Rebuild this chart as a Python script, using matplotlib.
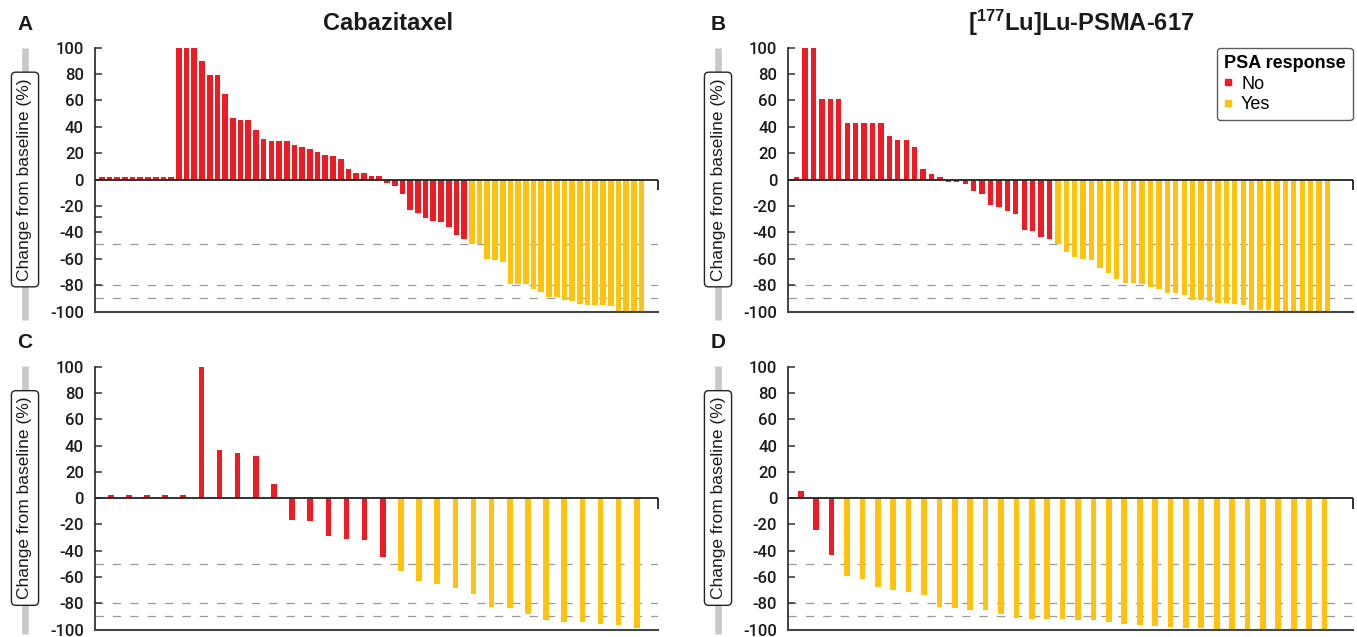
import matplotlib
matplotlib.use("Agg")
import matplotlib.pyplot as plt
from matplotlib.lines import Line2D

plt.rcParams['font.family'] = ['Liberation Sans', 'DejaVu Sans']
plt.rcParams['mathtext.fontset'] = 'custom'
plt.rcParams['mathtext.rm'] = 'Liberation Sans'
plt.rcParams['mathtext.bf'] = 'Liberation Sans:bold'
plt.rcParams['lines.scale_dashes'] = False

# ---------------- data ----------------
# Panel A: Cabazitaxel, PSA change (all patients)
a_no = [2, 2, 2, 2, 2, 2, 2, 2, 2, 2,
        100, 100, 100, 90, 79, 79, 65, 47, 45, 45, 38, 31, 29, 29, 29, 26, 25, 23, 21,
        19, 18, 16, 8, 5, 5, 2.5, 2.5,
        -2.5, -5, -11, -23, -25, -29, -31, -32, -36, -42, -45]
a_yes = [-49, -49, -60, -61, -62, -79, -79, -79, -83, -85, -89, -89, -91, -92, -94,
         -95, -95, -95, -96, -100, -100, -100, -100]

# Panel B: [177Lu]Lu-PSMA-617 (all patients)
b_no = [2, 100, 100, 61, 61, 61, 43, 43, 43, 43, 43, 33, 30, 30, 25, 8, 4, 2,
        -1.5, -2, -3.5, -8.5, -10.5, -19, -20.5, -24, -26, -38, -39, -43.5, -45]
b_yes = [-48.5, -55, -58.5, -60, -61, -67, -70.5, -75, -78, -78, -79, -81, -82.5,
         -86, -86, -87, -91, -91, -92, -93.5, -93.5, -94, -95, -99, -99, -99,
         -100, -100, -100, -100, -100, -100, -100]

# Panel C: Cabazitaxel (subgroup)
c_no = [2, 2, 2, 2, 2, 100, 36.5, 34.5, 32, 11, -16.5, -17.5, -28.5, -31, -32, -44.5]
c_yes = [-55.5, -63, -65, -68.5, -73, -82.5, -84, -88.5, -93, -94, -94.5, -96,
         -96.5, -99]

# Panel D: [177Lu]Lu-PSMA-617 (subgroup)
d_no = [5.5, -24.5, -43.5]
d_yes = [-59, -61.5, -67.5, -70, -71.5, -74, -82.5, -84, -85, -85.5, -88.5, -91,
         -92, -92, -92, -93, -93, -94.5, -95.5, -96.5, -97, -98, -98.5, -98.5,
         -99.5, -99.5, -99.5, -99.5, -99.5, -99.5, -99.5, -99.5]

y_ticks = [100, 80, 60, 40, 20, 0, -20, -40, -60, -80, -100]
thresholds_top = [-49, -80, -90]
thresholds_bottom = [-50, -80, -90]

RED = '#ED1C24'
YELLOW = '#FFC20E'

W, H = 1357, 637
fig = plt.figure(figsize=(W / 100, H / 100), dpi=100)


def px_axes(left, right, top, bottom):
    return fig.add_axes([left / W, (H - bottom) / H, (right - left) / W, (bottom - top) / H])


def panel(ax, no_vals, yes_vals, width, xlim, thresholds, extra_minor=None):
    n_no = len(no_vals)
    xs_no = list(range(n_no))
    xs_yes = list(range(n_no, n_no + len(yes_vals)))
    ax.bar(xs_no, no_vals, width=width, color=RED, linewidth=0, zorder=2)
    ax.bar(xs_yes, yes_vals, width=width, color=YELLOW, linewidth=0, zorder=2)
    ax.set_xlim(*xlim)
    ax.set_ylim(-100, 100)
    for t in thresholds:
        ax.axhline(t, color='#9a9a9a', lw=0.9, dashes=(6, 6.5), zorder=1)
    ax.axhline(0, color='#222222', lw=1.3, zorder=3)
    ax.plot([xlim[1], xlim[1]], [0, -8], color='#222222', lw=1.3, zorder=3,
            clip_on=False, solid_capstyle='butt')
    for s in ['top', 'right']:
        ax.spines[s].set_visible(False)
    ax.spines['left'].set_color('#222222')
    ax.spines['left'].set_linewidth(1.2)
    ax.spines['bottom'].set_color('#444444')
    ax.spines['bottom'].set_linewidth(1.5)
    ax.set_xticks([])
    ax.set_yticks(y_ticks)
    ax.set_yticklabels([str(t) for t in y_ticks])
    ax.tick_params(axis='y', direction='in', length=5, width=1.1, color='#333333',
                   labelsize=12, pad=8, labelcolor='#1a1a1a')
    for lab in ax.get_yticklabels():
        lab.set_family(['Roboto', 'Liberation Sans'])
        lab.set_fontweight('medium')
    if extra_minor is not None:
        ax.set_yticks(extra_minor, minor=True)
        ax.tick_params(axis='y', which='minor', direction='in', length=5, width=1.1,
                       color='#333333')


axA = px_axes(95, 658, 47.7, 311.7)
axB = px_axes(788.3, 1352.7, 47.7, 311.7)
axC = px_axes(95, 658, 366.7, 629.5)
axD = px_axes(788.3, 1352.7, 366.7, 629.5)

panel(axA, a_no, a_yes, 0.74, (-0.87, 72.14), thresholds_top, extra_minor=[-28.5])
panel(axB, b_no, b_yes, 0.63, (-1.0, 66.0), thresholds_top)
panel(axC, c_no, c_yes, 0.31, (-0.865, 30.17), thresholds_bottom)
panel(axD, d_no, d_yes, 0.37, (-0.81, 35.83), thresholds_bottom)


# y-labels: gray bar + rounded box
def ylabel_box(xc, top, bottom, box_top, box_bottom):
    fig.add_artist(Line2D([xc / W, xc / W], [(H - bottom) / H, (H - top) / H],
                          color='#c8c8c8', lw=4.8, solid_capstyle='butt'))
    fig.text(xc / W, (H - (box_top + box_bottom) / 2) / H, 'Change from baseline (%)',
             rotation=90, ha='center', va='center', fontsize=12.5, color='#1a1a1a',
             bbox=dict(boxstyle='round,pad=0.35,rounding_size=0.25', fc='white',
                       ec='#222222', lw=1.0))


ylabel_box(25, 48, 320, 72, 287)
ylabel_box(718, 48, 320, 72, 287)
ylabel_box(25, 366, 634, 390, 606)
ylabel_box(718, 366, 634, 390, 606)

# panel letters
for lbl, x, y in [('A', 25, 24), ('B', 718, 24), ('C', 25, 342), ('D', 718, 342)]:
    fig.text(x / W, (H - y) / H, lbl, fontsize=15, fontweight='bold', ha='center',
             va='center', color='#1a1a1a')

# titles
fig.text(388 / W, (H - 23) / H, 'Cabazitaxel', fontsize=17, fontweight='bold',
         ha='center', va='center', color='#1a1a1a')
fig.text(1081 / W, (H - 23) / H, r'[$\mathbf{^{177}}$Lu]Lu-PSMA-617', fontsize=17,
         fontweight='bold', ha='center', va='center', color='#1a1a1a')

# legend
handles = [Line2D([], [], marker='s', ls='none', color=RED, markersize=5),
           Line2D([], [], marker='s', ls='none', color=YELLOW, markersize=5)]
leg = axB.legend(handles, ['No', 'Yes'], title='PSA response', loc='upper right',
                 bbox_to_anchor=(1.0, 1.0), borderaxespad=0.0, fontsize=13,
                 title_fontsize=13, handlelength=0.5, handletextpad=0.45,
                 borderpad=0.4, labelspacing=0.2, frameon=True, fancybox=True,
                 alignment='left')
leg.get_title().set_fontweight('bold')
leg.get_frame().set_edgecolor('#333333')
leg.get_frame().set_linewidth(1.0)
leg.get_frame().set_boxstyle('round,pad=0,rounding_size=0.2')

fig.savefig('out.png', dpi=100)
